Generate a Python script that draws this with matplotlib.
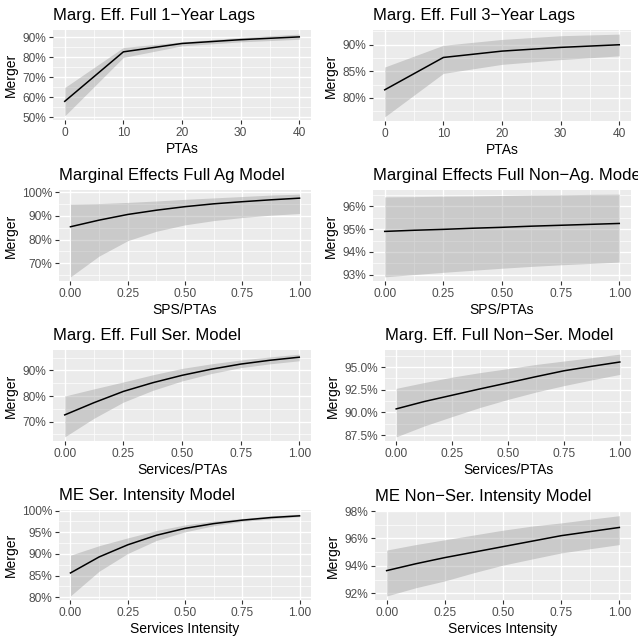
import matplotlib.pyplot as plt
import numpy as np

plt.rcParams["font.family"] = ["Liberation Sans", "DejaVu Sans"]

# PTA-count panels (x = number of PTAs)
pta_x = [0, 10, 20, 30, 40]
lag1_fit = [58.0, 82.8, 87.0, 88.9, 90.3]
lag1_hi = [64.9, 85.0, 87.8, 90.0, 91.7]
lag1_lo = [50.7, 80.0, 85.8, 87.8, 89.1]

lag3_fit = [81.5, 87.6, 88.8, 89.5, 90.0]
lag3_hi = [85.8, 89.9, 91.0, 91.7, 92.0]
lag3_lo = [76.4, 84.6, 86.3, 87.2, 87.9]

# share panels (x from 0 to 1)
share_x = [0, 0.125, 0.25, 0.375, 0.5, 0.625, 0.75, 0.875, 1.0]
ag_fit = [85.4, 88.2, 90.6, 92.4, 93.9, 95.1, 96.0, 96.8, 97.5]
ag_hi = [95.0, 95.2, 95.7, 96.3, 97.0, 97.6, 98.2, 98.8, 99.2]
ag_lo = [64.2, 73.0, 79.5, 83.5, 86.2, 88.0, 89.3, 90.3, 91.0]

nonag_fit = [94.90, 94.95, 94.99, 95.04, 95.08, 95.13, 95.17, 95.21, 95.25]
nonag_hi = [96.42, 96.43, 96.45, 96.46, 96.48, 96.50, 96.51, 96.53, 96.54]
nonag_lo = [92.90, 93.00, 93.10, 93.19, 93.28, 93.36, 93.43, 93.49, 93.55]

ser_fit = [72.6, 77.4, 81.8, 85.2, 88.1, 90.5, 92.5, 94.0, 95.2]
ser_hi = [80.0, 82.8, 85.5, 88.3, 90.8, 92.6, 94.1, 95.3, 96.4]
ser_lo = [64.0, 71.3, 77.6, 82.2, 85.9, 88.8, 91.1, 92.6, 93.8]

nonser_fit = [90.39, 91.2, 91.9, 92.6, 93.27, 93.95, 94.6, 95.1, 95.57]
nonser_hi = [92.66, 93.3, 93.9, 94.4, 94.84, 95.3, 95.68, 96.05, 96.44]
nonser_lo = [87.3, 88.5, 89.54, 90.55, 91.44, 92.25, 92.96, 93.6, 94.2]

seri_fit = [85.6, 89.3, 92.1, 94.3, 95.9, 97.0, 97.8, 98.4, 98.8]
seri_hi = [89.7, 91.9, 93.7, 95.4, 96.7, 97.6, 98.2, 98.8, 99.2]
seri_lo = [80.3, 86.0, 90.1, 93.1, 95.1, 96.5, 97.5, 98.1, 98.6]

nseri_fit = [93.65, 94.15, 94.6, 95.0, 95.4, 95.8, 96.2, 96.5, 96.8]
nseri_hi = [95.15, 95.55, 95.9, 96.25, 96.6, 96.9, 97.13, 97.4, 97.66]
nseri_lo = [91.8, 92.4, 92.9, 93.5, 94.05, 94.5, 94.94, 95.25, 95.55]

share_ticks = [0, 0.25, 0.5, 0.75, 1.0]
share_labels = ["0.00", "0.25", "0.50", "0.75", "1.00"]
pta_labels = ["0", "10", "20", "30", "40"]

panels = [
    # title, xlabel, x, fit, lo, hi, xticks, xticklabels, yticks, yfmt, pixel box
    ("Marg. Eff. Full 1\u2212Year Lags", "PTAs", pta_x, lag1_fit, lag1_lo, lag1_hi,
     pta_x, pta_labels, [50, 60, 70, 80, 90], "{:.0f}%", (53, 30, 311, 120)),
    ("Marg. Eff. Full 3\u2212Year Lags", "PTAs", pta_x, lag3_fit, lag3_lo, lag3_hi,
     pta_x, pta_labels, [80, 85, 90], "{:.0f}%", (373, 30, 631, 121)),
    ("Marginal Effects Full Ag Model", "SPS/PTAs", share_x, ag_fit, ag_lo, ag_hi,
     share_ticks, share_labels, [70, 80, 90, 100], "{:.0f}%", (59, 190, 311, 281)),
    # title runs past the right edge in the original too
    ("Marginal Effects Full Non\u2212Ag. Model", "SPS/PTAs", share_x, nonag_fit, nonag_lo, nonag_hi,
     share_ticks, share_labels, [93, 94, 95, 96], "{:.0f}%", (373, 190, 631, 281)),
    ("Marg. Eff. Full Ser. Model", "Services/PTAs", share_x, ser_fit, ser_lo, ser_hi,
     share_ticks, share_labels, [70, 80, 90], "{:.0f}%", (53, 350, 311, 441)),
    ("Marg. Eff. Full Non\u2212Ser. Model", "Services/PTAs", share_x, nonser_fit, nonser_lo, nonser_hi,
     share_ticks, share_labels, [87.5, 90, 92.5, 95], "{:.1f}%", (385, 350, 631, 441)),
    ("ME Ser. Intensity Model", "Services Intensity", share_x, seri_fit, seri_lo, seri_hi,
     share_ticks, share_labels, [80, 85, 90, 95, 100], "{:.0f}%", (59, 510, 311, 600)),
    ("ME Non\u2212Ser. Intensity Model", "Services Intensity", share_x, nseri_fit, nseri_lo, nseri_hi,
     share_ticks, share_labels, [92, 94, 96, 98], "{:.0f}%", (375, 511, 631, 600)),
]

W = H = 638
fig = plt.figure(figsize=(W / 100, H / 100), dpi=100)


def minor_between(ticks, lo, hi):
    step = ticks[1] - ticks[0]
    cands = [ticks[0] - step / 2] + [t + step / 2 for t in ticks]
    return [c for c in cands if lo <= c <= hi]


for (title, xlab, x, fit, lo, hi, xt, xtl, yt, yfmt, box) in panels:
    x0, y0, x1, y1 = box
    ax = fig.add_axes([x0 / W, 1 - y1 / H, (x1 - x0) / W, (y1 - y0) / H])
    ax.set_facecolor("#EBEBEB")

    # ggplot-style expansion of 5%
    xr = max(x) - min(x)
    ax.set_xlim(min(x) - 0.05 * xr, max(x) + 0.05 * xr)
    ymin, ymax = min(lo), max(hi)
    yr = ymax - ymin
    ax.set_ylim(ymin - 0.05 * yr, ymax + 0.05 * yr)
    xl, xh = ax.get_xlim()
    yl, yh = ax.get_ylim()

    for m in minor_between(xt, xl, xh):
        ax.axvline(m, color="white", lw=0.5, zorder=0.5)
    for m in minor_between(yt, yl, yh):
        ax.axhline(m, color="white", lw=0.5, zorder=0.5)
    for t in xt:
        ax.axvline(t, color="white", lw=1.0, zorder=0.6)
    for t in yt:
        ax.axhline(t, color="white", lw=1.0, zorder=0.6)

    ax.fill_between(x, lo, hi, color="#999999", alpha=0.4, lw=0, zorder=1)
    ax.plot(x, fit, color="black", lw=1.1, zorder=2)

    ax.set_xticks(xt)
    ax.set_xticklabels(xtl)
    ax.set_yticks(yt)
    ax.set_yticklabels([yfmt.format(v) for v in yt])
    ax.tick_params(axis="both", labelsize=8.6, labelcolor="#4D4D4D", color="#333333",
                   length=3, width=0.8, pad=2)
    for s in ax.spines.values():
        s.set_visible(False)

    ax.set_xlabel(xlab, fontsize=10, labelpad=2)
    ax.set_ylabel("Merger", fontsize=10, labelpad=3)
    ax.set_title(title, loc="left", fontsize=12, pad=7.5)

fig.savefig("out.png", dpi=100)
